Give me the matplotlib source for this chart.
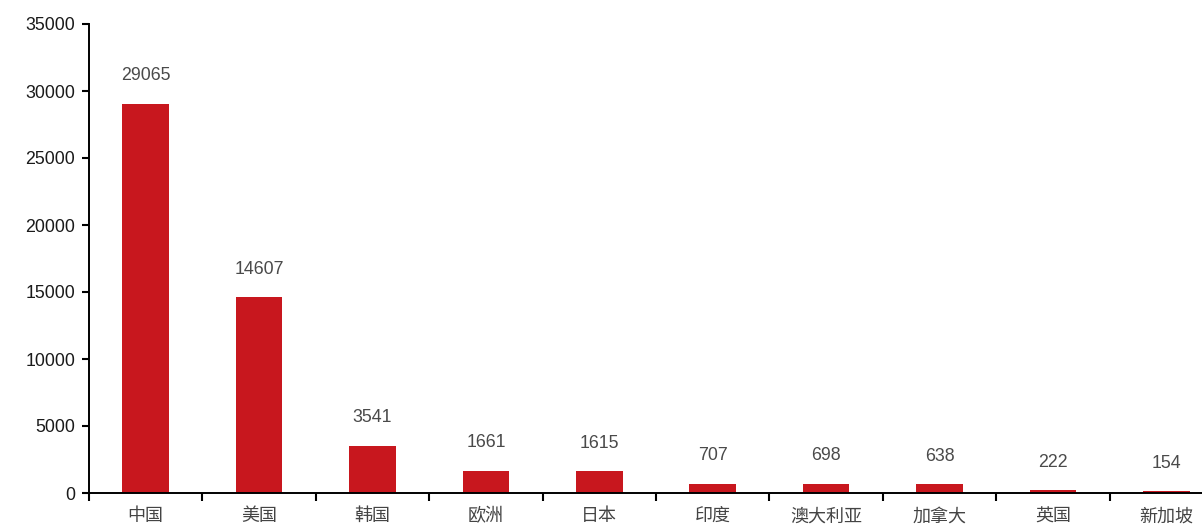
import numpy as np
import matplotlib.pyplot as plt
from matplotlib.ticker import FixedLocator, NullFormatter

plt.rcParams['font.family'] = ['Liberation Sans', 'Noto Sans CJK SC', 'DejaVu Sans']

# datos
paises = ['中国', '美国', '韩国', '欧洲', '日本', '印度', '澳大利亚', '加拿大', '英国', '新加坡']
valores = [29065, 14607, 3541, 1661, 1615, 707, 698, 638, 222, 154]
yticks = [0, 5000, 10000, 15000, 20000, 25000, 30000, 35000]

rojo = '#C8171E'

fig = plt.figure(figsize=(12.02, 5.25), dpi=100)
# el eje se sale un poco por la derecha, como en la original
ax = fig.add_axes([89/1202, 32/525, 1134/1202, 469/525])

x = np.arange(len(paises))
ax.bar(x, valores, width=0.41, color=rojo, zorder=2)

for xi, v in zip(x, valores):
    ax.annotate(str(v), (xi, v), xytext=(0, 20), textcoords='offset points',
                ha='center', va='center', fontsize=12.8, color='#4a4a4a')

ax.set_xlim(-0.5, len(paises) - 0.5)
ax.set_ylim(0, 35000)
ax.set_yticks(yticks)
ax.set_yticklabels([str(t) for t in yticks])

# marcas en los limites de categoria, etiquetas en el centro
ax.xaxis.set_major_locator(FixedLocator(np.arange(-0.5, len(paises), 1.0)))
ax.xaxis.set_major_formatter(NullFormatter())
ax.set_xticks(x, minor=True)
ax.set_xticklabels(paises, minor=True)
ax.tick_params(axis='x', which='major', direction='out', length=6, width=1.5, color='black')
ax.tick_params(axis='x', which='minor', length=0, pad=11, labelsize=13, labelcolor='#444444')
ax.tick_params(axis='y', direction='out', length=5, width=1.5, pad=5,
               labelsize=12.8, labelcolor='#1a1a1a')

for s in ['top', 'right']:
    ax.spines[s].set_visible(False)
for s in ['left', 'bottom']:
    ax.spines[s].set_linewidth(1.4)
    ax.spines[s].set_color('black')
ax.spines['bottom'].set_zorder(3)

fig.savefig('out.png', dpi=100)
